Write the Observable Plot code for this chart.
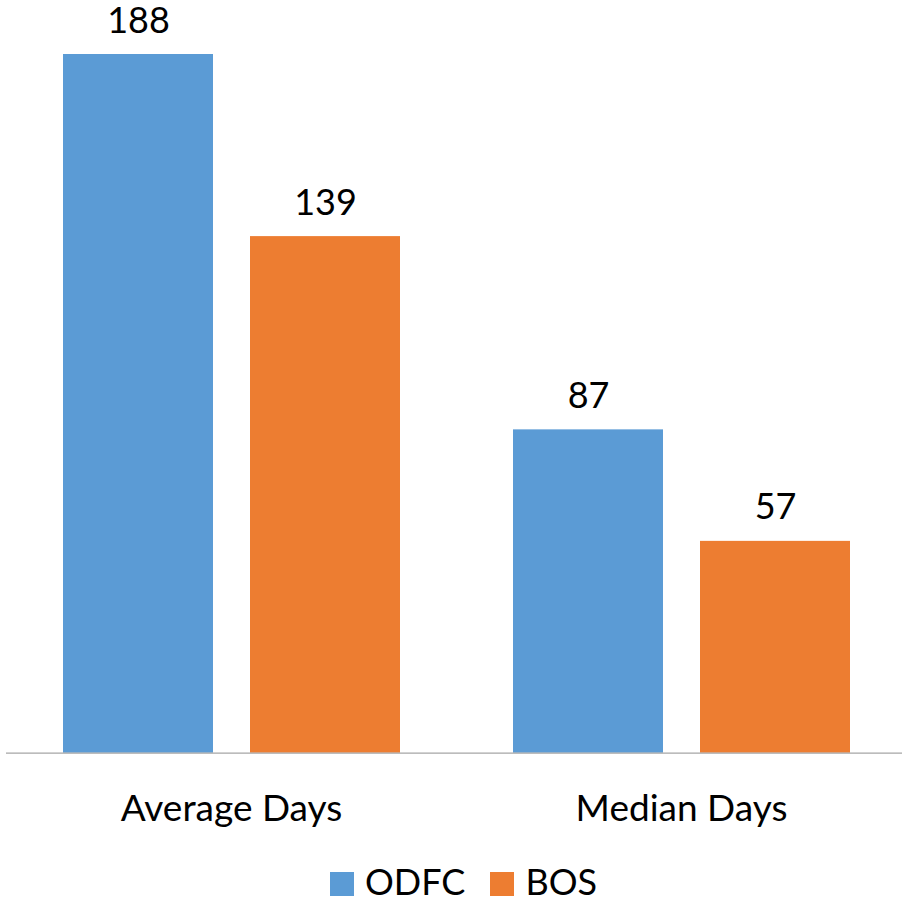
<!DOCTYPE html>
<html>
<head>
<meta charset="utf-8">
<script src="https://cdn.jsdelivr.net/npm/d3@7"></script>
<script src="https://cdn.jsdelivr.net/npm/@observablehq/plot@0.6"></script>
<style>
  html, body { margin: 0; padding: 0; background: #fff; }
  #chart { width: 902px; font-family: Lato, "Open Sans", sans-serif; }
  .legend { display: flex; align-items: center; height: 39px; padding-left: 330px; padding-top: 2px;
            font-size: 36px; color: #000; line-height: 39px; }
  .legend .item { display: flex; align-items: center; margin-right: 25px; }
  .legend .sw { width: 24px; height: 24px; margin-right: 11px; margin-top: 4px; }
</style>
</head>
<body>
<div id="chart"></div>
<script>
// Days to resolution, by measure and organisation
const categories = ["Average Days", "Median Days"];
const series = ["ODFC", "BOS"];
const odfcValues = [188, 87];
const bosValues = [139, 57];
const seriesColors = ["#5B9BD5", "#ED7D31"];

const rows = categories.flatMap((c, i) => [
  {category: c, series: series[0], value: odfcValues[i]},
  {category: c, series: series[1], value: bosValues[i]}
]);

const chart = Plot.plot({
  width: 902,
  height: 860,
  marginTop: 54,
  marginBottom: 107.3,
  marginLeft: 5,
  marginRight: -4,
  style: {fontFamily: "Lato, 'Open Sans', sans-serif", fontSize: "36px", color: "#000", background: "#fff", overflow: "visible"},
  fx: {domain: categories, padding: 0, label: null},
  x: {domain: series, paddingInner: 0.2, paddingOuter: 0.3, axis: null},
  y: {domain: [0, 188], axis: null},
  color: {domain: series, range: seriesColors},
  marks: [
    Plot.barY(rows, {fx: "category", x: "series", y: "value", fill: "series"}),
    Plot.ruleY([0], {stroke: "#a6a6a6", strokeWidth: 1.3}),
    Plot.text(rows, {fx: "category", x: "series", y: "value", text: d => String(d.value),
      lineAnchor: "bottom", dy: -22, fontSize: 36, fill: "#000"}),
    Plot.axisFx({anchor: "bottom", tickSize: 0, tickPadding: 42, fontSize: 37, label: null, fill: "#000"})
  ]
});

const root = document.getElementById("chart");
root.appendChild(chart);

// Legend beneath the plot, colours taken from the chart's colour scale
const colorScale = chart.scale("color");
const legend = document.createElement("div");
legend.className = "legend";
colorScale.domain.forEach((name, i) => {
  const item = document.createElement("span");
  item.className = "item";
  const sw = document.createElement("span");
  sw.className = "sw";
  sw.style.background = colorScale.range[i];
  const label = document.createElement("span");
  label.textContent = name;
  item.appendChild(sw);
  item.appendChild(label);
  legend.appendChild(item);
});
root.appendChild(legend);
</script>
</body>
</html>
